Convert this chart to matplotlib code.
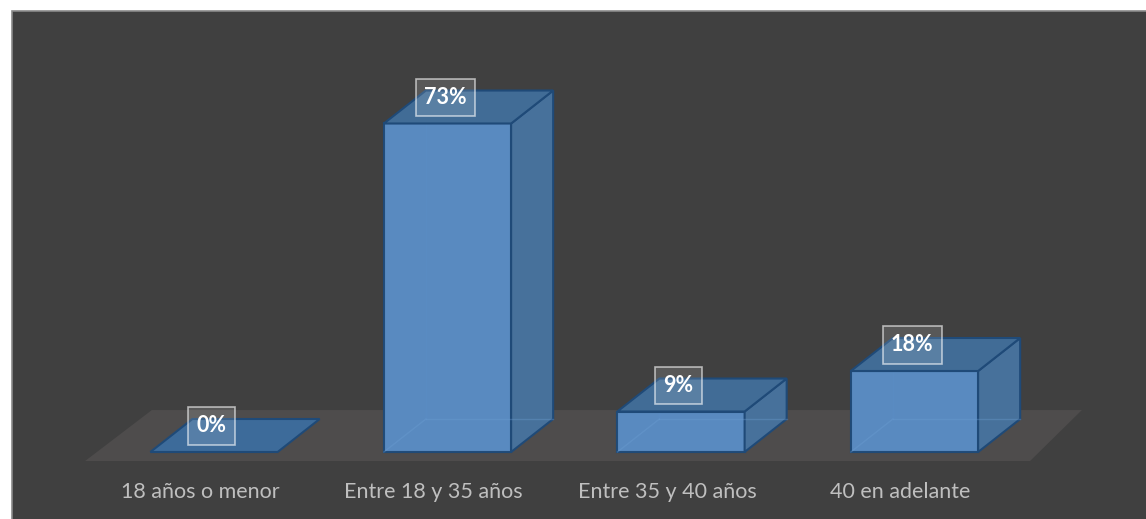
import matplotlib.pyplot as plt
from matplotlib.patches import Polygon, Rectangle

# data
categories = ['18 años o menor', 'Entre 18 y 35 años', 'Entre 35 y 40 años', '40 en adelante']
values = [0, 73, 9, 18]
labels = ['0%', '73%', '9%', '18%']

W, H = 1146, 519
fig = plt.figure(figsize=(W / 100, H / 100), dpi=100, facecolor='white')

ax = fig.add_axes([0, 0, 1, 1])
ax.set_xlim(-214 / 233.5, (W - 214) / 233.5)
ax.set_ylim(-(H - 452) / 4.5, 452 / 4.5)
ax.axis('off')

# dark chart panel
ax.add_patch(Rectangle((12 / W, -0.01), 1.0, 1 - 11 / H + 0.01, transform=fig.transFigure,
                       facecolor='#404040', edgecolor='#8a8a8a', lw=1.2, zorder=0, clip_on=False))

bw = 0.545        # bar width
dx, dy = 0.18, 7.33  # depth offset

# floor
floor = Polygon([(-0.552, -2), (3.495, -2), (3.717, 9.33), (-0.266, 9.33)],
                closed=True, facecolor='#4e4c4c', edgecolor='none', zorder=1)
ax.add_patch(floor)

edge = '#1f4a78'
for i, v in enumerate(values):
    x0, x1 = i - bw / 2, i + bw / 2
    if v > 0:
        # hidden back edges (bars are slightly see-through)
        ax.plot([x0 + dx, x0 + dx], [dy, v + dy], color='#6d9fd4', lw=1, alpha=0.35, zorder=2)
        ax.plot([x0, x0 + dx], [0, dy], color='#6d9fd4', lw=1, alpha=0.35, zorder=4)
        ax.plot([x0 + dx, x1 + dx], [dy, dy], color='#6d9fd4', lw=1, alpha=0.35, zorder=4)
        # front face
        ax.add_patch(Polygon([(x0, 0), (x1, 0), (x1, v), (x0, v)], closed=True,
                             facecolor='#5a8dc5', edgecolor=edge, lw=1.5, alpha=0.97, zorder=3))
        # side face
        ax.add_patch(Polygon([(x1, 0), (x1 + dx, dy), (x1 + dx, v + dy), (x1, v)], closed=True,
                             facecolor='#47719b', edgecolor=edge, lw=1.5, zorder=3))
        top_col = '#416c96'
    else:
        top_col = '#3d6b9a'
    # top face
    ax.add_patch(Polygon([(x0, v), (x1, v), (x1 + dx, v + dy), (x0 + dx, v + dy)], closed=True,
                         facecolor=top_col, edgecolor=edge, lw=1.5, zorder=5))
    # value label
    ax.text(i - 0.01, v + 5.8, labels[i], ha='center', va='center', color='white',
            fontsize=15.5, fontweight='bold', family=['Lato', 'DejaVu Sans'], zorder=7,
            bbox=dict(boxstyle='square,pad=0.38', facecolor=(1, 1, 1, 0.13),
                      edgecolor=(1, 1, 1, 0.6), lw=1.2))
    # category label
    ax.text(i - 0.06, -9.0, categories[i], ha='center', va='center', color='#bfbfbf',
            fontsize=15.5, family=['Lato', 'DejaVu Sans'], zorder=6)

fig.savefig('out.png', dpi=100, facecolor='white')
